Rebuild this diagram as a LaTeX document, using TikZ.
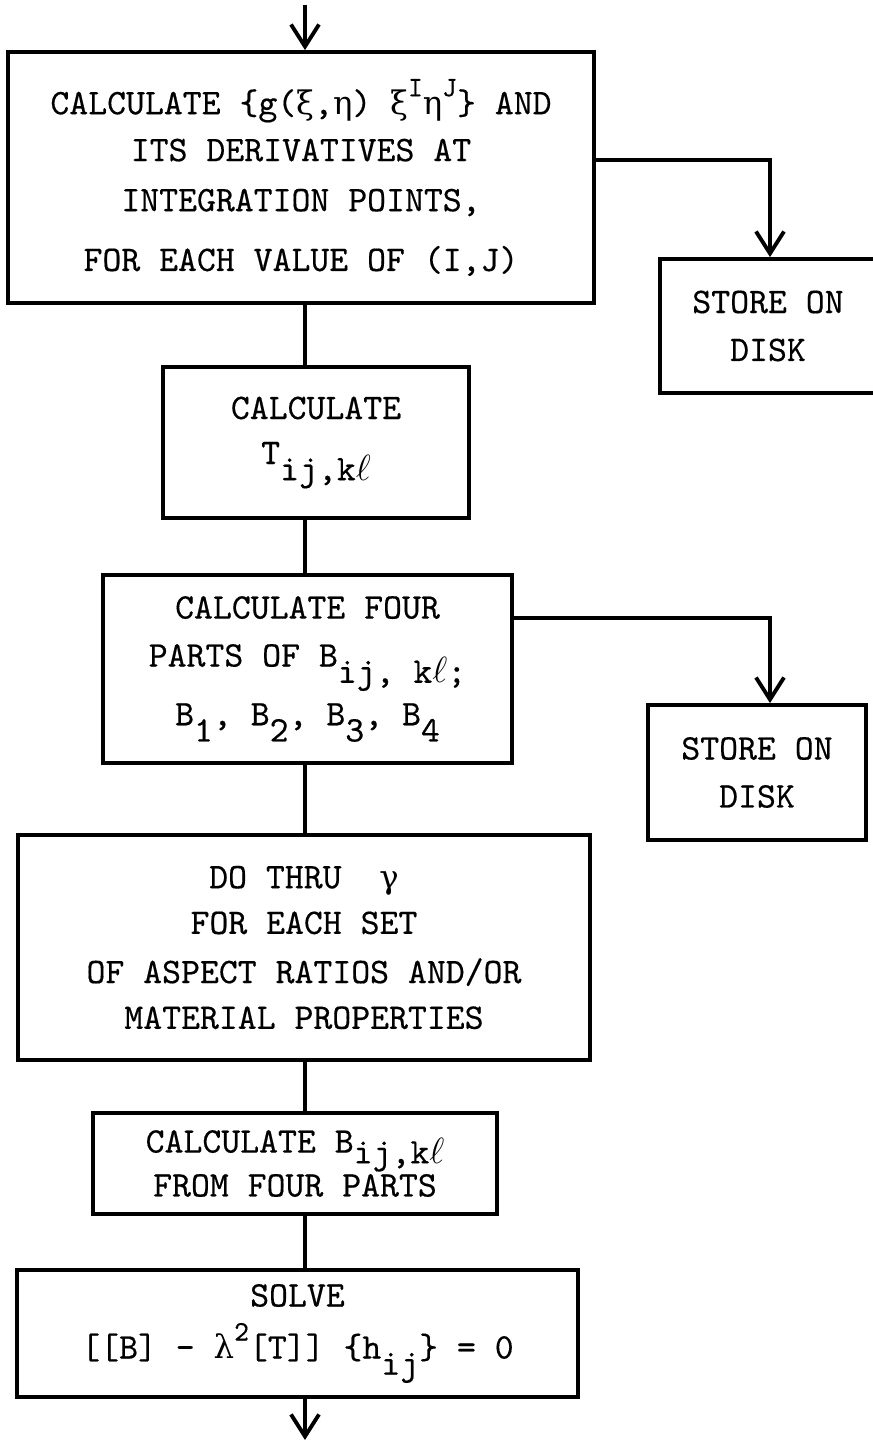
\documentclass[tikz,border=0pt]{standalone}
\usepackage{fontspec}
\setmonofont{lmmono10-regular}[Extension=.otf,FakeBold=0.4]
\newfontfamily\grk{DejaVu Serif}[Scale=0.9]
\usetikzlibrary{arrows.meta}
\newcommand{\lowr}[1]{\raisebox{-0.45em}{#1}}
\newcommand{\highr}[1]{\raisebox{0.5em}{\fontsize{16}{16}\selectfont #1}}
\begin{document}
\begin{tikzpicture}[x=0.02cm,y=-0.02cm,
		procbox/.style={rectangle,draw,line width=2.2pt,inner sep=0pt,align=center,
			font=\ttfamily\fontsize{20.5}{24}\selectfont},
		link/.style={line width=2.2pt},
		flow/.style={line width=2.2pt,-{Straight Barb[length=0.44cm,width=0.56cm]}}]
	\useasboundingbox (0,0) rectangle (872,1443);
	% main column
	\node[procbox,minimum width=11.72cm,minimum height=5.02cm] (gcalc) at (301,177.5)
		{CALCULATE \{g({\grk ξ},{\grk η}) {\grk ξ}\highr{I}{\grk η}\highr{J}\} AND\\[2.7pt]
		 ITS DERIVATIVES AT\\[4.5pt]
		 INTEGRATION POINTS,\\[10pt]
		 FOR EACH VALUE OF (I,J)};
	\node[procbox,minimum width=6.12cm,minimum height=3.02cm] (tcalc) at (316,442.5)
		{CALCULATE\\[1.6pt]
		 T\lowr{ij,k$\ell$}};
	\node[procbox,minimum width=8.18cm,minimum height=3.76cm] (bparts) at (307.5,669)
		{CALCULATE FOUR\\[3.3pt]
		 PARTS OF B\lowr{ij, k$\ell$;}\\[6pt]
		 B\lowr{1}, B\lowr{2}, B\lowr{3}, B\lowr{4}};
	\node[procbox,minimum width=11.44cm,minimum height=4.5cm] (loop) at (304,947.5)
		{DO THRU~~{\grk γ}\\[2pt]
		 FOR EACH SET\\[4pt]
		 OF ASPECT RATIOS AND/OR\\[2pt]
		 MATERIAL PROPERTIES};
	\node[procbox,minimum width=8.08cm,minimum height=2.02cm] (bsum) at (295,1163.5)
		{CALCULATE B\raisebox{-0.3em}{ij,k$\ell$}\\[1pt]
		 FROM FOUR PARTS};
	\node[procbox,minimum width=11.22cm,minimum height=2.54cm] (solve) at (297.5,1333.5)
		{SOLVE\\[5.6pt]
		 [[B] - {\grk λ}\highr{2}[T]] \{h\lowr{ij}\} = 0};
	% disk stores
	\node[procbox,minimum width=4.32cm,minimum height=2.68cm] (disk1) at (768,326)
		{STORE ON\\[3.3pt] DISK};
	\node[procbox,minimum width=4.36cm,minimum height=2.7cm] (disk2) at (757,772.5)
		{STORE ON\\[3.3pt] DISK};
	% connectors
	\coordinate (spine) at (305,0);
	\coordinate (side) at (770,0);
	\coordinate (entry) at (305,5);
	\coordinate (exit) at (305,1440);
	\coordinate (tap1) at (0,160);
	\coordinate (tap2) at (0,618);
	\draw[flow] (entry) -- (gcalc.north -| spine);
	\draw[link] (gcalc.south -| spine) -- (tcalc.north -| spine);
	\draw[link] (tcalc.south -| spine) -- (bparts.north -| spine);
	\draw[link] (bparts.south -| spine) -- (loop.north -| spine);
	\draw[link] (loop.south -| spine) -- (bsum.north -| spine);
	\draw[link] (bsum.south -| spine) -- (solve.north -| spine);
	\draw[flow] (solve.south -| spine) -- (exit);
	\draw[flow] (gcalc.east |- tap1) -| (disk1.north -| side);
	\draw[flow] (bparts.east |- tap2) -| (disk2.north -| side);
\end{tikzpicture}
\end{document}
